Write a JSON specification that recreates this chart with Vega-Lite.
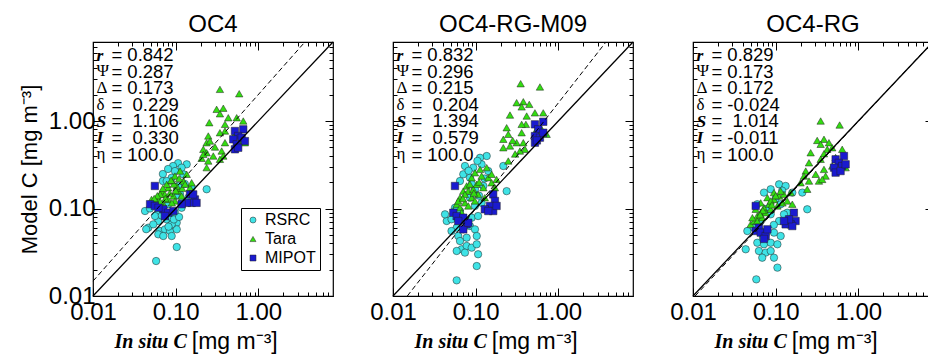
{
"$schema": "https://vega.github.io/schema/vega-lite/v6.json",
"padding": {"left": 17, "top": 12, "right": 0, "bottom": 0},
"background": "white",
"config": {
  "view": {"stroke": "black", "strokeWidth": 1.2},
  "font": "Liberation Sans",
  "axis": {"domain": false, "grid": false, "tickColor": "black", "tickWidth": 1, "labelColor": "black", "labelFont": "Liberation Sans", "labelFontSize": 24, "labelFlush": false, "labelOverlap": false},
  "axisX": {"labelPadding": 12},
  "axisY": {"labelPadding": 6},
  "title": {"font": "Liberation Sans", "fontSize": 24, "fontWeight": "normal", "color": "black", "offset": 2}
},
"datasets": {
"p1": [
{"s":"RSRC","x":0.107,"y":0.33},{"s":"RSRC","x":0.136,"y":0.32},{"s":"RSRC","x":0.070,"y":0.248},{"s":"RSRC","x":0.070,"y":0.206},{"s":"RSRC","x":0.0895,"y":0.225},{"s":"RSRC","x":0.237,"y":0.166},{"s":"RSRC","x":0.0426,"y":0.0936},{"s":"RSRC","x":0.0489,"y":0.10},{"s":"RSRC","x":0.0616,"y":0.0895},{"s":"RSRC","x":0.0742,"y":0.0895},{"s":"RSRC","x":0.0778,"y":0.0753},{"s":"RSRC","x":0.0616,"y":0.072},{"s":"RSRC","x":0.0895,"y":0.0785},{"s":"RSRC","x":0.103,"y":0.0688},{"s":"RSRC","x":0.0646,"y":0.0553},{"s":"RSRC","x":0.0742,"y":0.0578},{"s":"RSRC","x":0.0853,"y":0.0553},{"s":"RSRC","x":0.103,"y":0.0578},{"s":"RSRC","x":0.0616,"y":0.0507},{"s":"RSRC","x":0.0708,"y":0.0485},{"s":"RSRC","x":0.0895,"y":0.0485},{"s":"RSRC","x":0.0467,"y":0.0604},{"s":"RSRC","x":0.044,"y":0.058},{"s":"RSRC","x":0.103,"y":0.0363},{"s":"RSRC","x":0.058,"y":0.0251},{"s":"RSRC","x":0.0895,"y":0.0659},{"s":"RSRC","x":0.0536,"y":0.0659},{"s":"RSRC","x":0.0778,"y":0.206},{"s":"RSRC","x":0.124,"y":0.246},{"s":"RSRC","x":0.129,"y":0.191},{"s":"RSRC","x":0.113,"y":0.146},{"s":"RSRC","x":0.142,"y":0.133},{"s":"RSRC","x":0.0814,"y":0.112},{"s":"RSRC","x":0.118,"y":0.102},{"s":"RSRC","x":0.0677,"y":0.102},{"s":"RSRC","x":0.0589,"y":0.112},{"s":"RSRC","x":0.0981,"y":0.0895},{"s":"RSRC","x":0.0562,"y":0.082},{"s":"RSRC","x":0.093,"y":0.306},{"s":"RSRC","x":0.118,"y":0.293},{"s":"RSRC","x":0.081,"y":0.283},{"s":"RSRC","x":0.0981,"y":0.268},{"s":"RSRC","x":0.107,"y":0.181},{"s":"RSRC","x":0.156,"y":0.173},{"s":"RSRC","x":0.082,"y":0.062},{"s":"RSRC","x":0.095,"y":0.075},{"s":"RSRC","x":0.068,"y":0.083},{"s":"RSRC","x":0.11,"y":0.08},{"s":"RSRC","x":0.12,"y":0.12},{"s":"RSRC","x":0.1,"y":0.14},
{"s":"Tara","x":0.051,"y":0.116},{"s":"Tara","x":0.059,"y":0.133},{"s":"Tara","x":0.068,"y":0.158},{"s":"Tara","x":0.074,"y":0.145},{"s":"Tara","x":0.081,"y":0.173},{"s":"Tara","x":0.090,"y":0.206},{"s":"Tara","x":0.098,"y":0.235},{"s":"Tara","x":0.113,"y":0.268},{"s":"Tara","x":0.124,"y":0.206},{"s":"Tara","x":0.136,"y":0.246},{"s":"Tara","x":0.107,"y":0.158},{"s":"Tara","x":0.094,"y":0.139},{"s":"Tara","x":0.081,"y":0.127},{"s":"Tara","x":0.062,"y":0.122},{"s":"Tara","x":0.071,"y":0.112},{"s":"Tara","x":0.056,"y":0.112},{"s":"Tara","x":0.098,"y":0.122},{"s":"Tara","x":0.118,"y":0.139},{"s":"Tara","x":0.149,"y":0.173},{"s":"Tara","x":0.156,"y":0.197},{"s":"Tara","x":0.065,"y":0.145},{"s":"Tara","x":0.078,"y":0.189},{"s":"Tara","x":0.051,"y":0.127},{"s":"Tara","x":0.090,"y":0.116},{"s":"Tara","x":0.103,"y":0.181},{"s":"Tara","x":0.07,"y":0.17},{"s":"Tara","x":0.085,"y":0.15},{"s":"Tara","x":0.06,"y":0.14},{"s":"Tara","x":0.095,"y":0.19},{"s":"Tara","x":0.11,"y":0.22},{"s":"Tara","x":0.075,"y":0.13},{"s":"Tara","x":0.065,"y":0.12},{"s":"Tara","x":0.12,"y":0.17},{"s":"Tara","x":0.13,"y":0.19},{"s":"Tara","x":0.088,"y":0.21},{"s":"Tara","x":0.1,"y":0.16},{"s":"Tara","x":0.055,"y":0.13},
{"s":"Tara","x":0.343,"y":2.30},{"s":"Tara","x":0.587,"y":2.05},{"s":"Tara","x":0.313,"y":1.36},{"s":"Tara","x":0.377,"y":1.40},{"s":"Tara","x":0.343,"y":1.21},{"s":"Tara","x":0.433,"y":1.09},{"s":"Tara","x":0.547,"y":1.09},{"s":"Tara","x":0.255,"y":0.957},{"s":"Tara","x":0.395,"y":0.916},{"s":"Tara","x":0.657,"y":1.0},{"s":"Tara","x":0.395,"y":0.769},{"s":"Tara","x":0.248,"y":0.674},{"s":"Tara","x":0.343,"y":0.735},{"s":"Tara","x":0.521,"y":0.705},{"s":"Tara","x":0.237,"y":0.565},{"s":"Tara","x":0.26,"y":0.59},{"s":"Tara","x":0.599,"y":0.59},{"s":"Tara","x":0.688,"y":0.565},{"s":"Tara","x":0.299,"y":0.504},{"s":"Tara","x":0.395,"y":0.565},{"s":"Tara","x":0.216,"y":0.475},{"s":"Tara","x":0.36,"y":0.454},{"s":"Tara","x":0.237,"y":0.434},{"s":"Tara","x":0.285,"y":0.398},{"s":"Tara","x":0.377,"y":0.398},{"s":"Tara","x":0.206,"y":0.375},{"s":"Tara","x":0.248,"y":0.349},{"s":"Tara","x":0.343,"y":0.365},{"s":"Tara","x":0.237,"y":0.293},{"s":"Tara","x":0.216,"y":0.416},
{"s":"MIPOT","x":0.521,"y":0.769},{"s":"MIPOT","x":0.657,"y":0.804},{"s":"MIPOT","x":0.571,"y":0.674},{"s":"MIPOT","x":0.497,"y":0.618},{"s":"MIPOT","x":0.628,"y":0.645},{"s":"MIPOT","x":0.547,"y":0.542},{"s":"MIPOT","x":0.521,"y":0.475},{"s":"MIPOT","x":0.688,"y":0.59},{"s":"MIPOT","x":0.571,"y":0.495},{"s":"MIPOT","x":0.056,"y":0.181},{"s":"MIPOT","x":0.149,"y":0.145},{"s":"MIPOT","x":0.171,"y":0.127},{"s":"MIPOT","x":0.156,"y":0.116},{"s":"MIPOT","x":0.136,"y":0.116},{"s":"MIPOT","x":0.118,"y":0.112},{"s":"MIPOT","x":0.179,"y":0.116},{"s":"MIPOT","x":0.163,"y":0.145},{"s":"MIPOT","x":0.049,"y":0.112},{"s":"MIPOT","x":0.056,"y":0.107},{"s":"MIPOT","x":0.071,"y":0.098},{"s":"MIPOT","x":0.062,"y":0.102},{"s":"MIPOT","x":0.081,"y":0.0895},{"s":"MIPOT","x":0.074,"y":0.082},{"s":"MIPOT","x":0.094,"y":0.0936}
],
"p2": [
{"s":"RSRC","x":0.0742,"y":0.306},{"s":"RSRC","x":0.136,"y":0.398},{"s":"RSRC","x":0.113,"y":0.38},{"s":"RSRC","x":0.0935,"y":0.293},{"s":"RSRC","x":0.118,"y":0.32},{"s":"RSRC","x":0.0708,"y":0.246},{"s":"RSRC","x":0.0646,"y":0.206},{"s":"RSRC","x":0.0853,"y":0.225},{"s":"RSRC","x":0.142,"y":0.268},{"s":"RSRC","x":0.216,"y":0.306},{"s":"RSRC","x":0.237,"y":0.158},{"s":"RSRC","x":0.0981,"y":0.166},{"s":"RSRC","x":0.124,"y":0.181},{"s":"RSRC","x":0.0446,"y":0.072},{"s":"RSRC","x":0.051,"y":0.0753},{"s":"RSRC","x":0.0616,"y":0.0785},{"s":"RSRC","x":0.0742,"y":0.072},{"s":"RSRC","x":0.0895,"y":0.0785},{"s":"RSRC","x":0.107,"y":0.082},{"s":"RSRC","x":0.0589,"y":0.0604},{"s":"RSRC","x":0.0708,"y":0.0578},{"s":"RSRC","x":0.0853,"y":0.063},{"s":"RSRC","x":0.0981,"y":0.0578},{"s":"RSRC","x":0.051,"y":0.0553},{"s":"RSRC","x":0.0616,"y":0.0485},{"s":"RSRC","x":0.0778,"y":0.0464},{"s":"RSRC","x":0.103,"y":0.0485},{"s":"RSRC","x":0.0646,"y":0.0425},{"s":"RSRC","x":0.0677,"y":0.0342},{"s":"RSRC","x":0.0778,"y":0.0373},{"s":"RSRC","x":0.0895,"y":0.0357},{"s":"RSRC","x":0.103,"y":0.039},{"s":"RSRC","x":0.107,"y":0.030},{"s":"RSRC","x":0.0589,"y":0.0327},{"s":"RSRC","x":0.0742,"y":0.0313},{"s":"RSRC","x":0.103,"y":0.022},{"s":"RSRC","x":0.0589,"y":0.0151},{"s":"RSRC","x":0.0426,"y":0.0858},{"s":"RSRC","x":0.0646,"y":0.0936},{"s":"RSRC","x":0.0562,"y":0.102},{"s":"RSRC","x":0.098,"y":0.107},{"s":"RSRC","x":0.118,"y":0.116},{"s":"RSRC","x":0.0853,"y":0.133},{"s":"RSRC","x":0.082,"y":0.27},{"s":"RSRC","x":0.105,"y":0.35},{"s":"RSRC","x":0.128,"y":0.22},{"s":"RSRC","x":0.11,"y":0.14},{"s":"RSRC","x":0.09,"y":0.19},
{"s":"Tara","x":0.0536,"y":0.0936},{"s":"Tara","x":0.0589,"y":0.112},{"s":"Tara","x":0.0646,"y":0.133},{"s":"Tara","x":0.0708,"y":0.158},{"s":"Tara","x":0.0778,"y":0.181},{"s":"Tara","x":0.0895,"y":0.225},{"s":"Tara","x":0.0981,"y":0.256},{"s":"Tara","x":0.113,"y":0.28},{"s":"Tara","x":0.136,"y":0.293},{"s":"Tara","x":0.142,"y":0.225},{"s":"Tara","x":0.156,"y":0.197},{"s":"Tara","x":0.171,"y":0.173},{"s":"Tara","x":0.124,"y":0.173},{"s":"Tara","x":0.107,"y":0.145},{"s":"Tara","x":0.0895,"y":0.133},{"s":"Tara","x":0.0742,"y":0.116},{"s":"Tara","x":0.0646,"y":0.102},{"s":"Tara","x":0.0814,"y":0.107},{"s":"Tara","x":0.0981,"y":0.122},{"s":"Tara","x":0.129,"y":0.133},{"s":"Tara","x":0.0677,"y":0.0895},{"s":"Tara","x":0.0589,"y":0.082},{"s":"Tara","x":0.0814,"y":0.158},{"s":"Tara","x":0.103,"y":0.189},{"s":"Tara","x":0.118,"y":0.235},{"s":"Tara","x":0.156,"y":0.246},{"s":"Tara","x":0.179,"y":0.215},{"s":"Tara","x":0.0742,"y":0.145},{"s":"Tara","x":0.0616,"y":0.122},{"s":"Tara","x":0.0935,"y":0.166},{"s":"Tara","x":0.085,"y":0.19},{"s":"Tara","x":0.11,"y":0.2},{"s":"Tara","x":0.07,"y":0.13},{"s":"Tara","x":0.095,"y":0.15},
{"s":"Tara","x":0.35,"y":2.67},{"s":"Tara","x":0.599,"y":2.45},{"s":"Tara","x":0.313,"y":1.62},{"s":"Tara","x":0.377,"y":1.66},{"s":"Tara","x":0.445,"y":1.55},{"s":"Tara","x":0.36,"y":1.45},{"s":"Tara","x":0.26,"y":1.17},{"s":"Tara","x":0.414,"y":1.14},{"s":"Tara","x":0.521,"y":1.24},{"s":"Tara","x":0.657,"y":1.24},{"s":"Tara","x":0.405,"y":0.916},{"s":"Tara","x":0.36,"y":0.916},{"s":"Tara","x":0.237,"y":0.838},{"s":"Tara","x":0.248,"y":0.705},{"s":"Tara","x":0.36,"y":0.735},{"s":"Tara","x":0.547,"y":0.804},{"s":"Tara","x":0.628,"y":0.804},{"s":"Tara","x":0.722,"y":0.705},{"s":"Tara","x":0.216,"y":0.618},{"s":"Tara","x":0.313,"y":0.565},{"s":"Tara","x":0.377,"y":0.565},{"s":"Tara","x":0.395,"y":0.475},{"s":"Tara","x":0.343,"y":0.454},{"s":"Tara","x":0.26,"y":0.519},{"s":"Tara","x":0.216,"y":0.495},{"s":"Tara","x":0.248,"y":0.349},{"s":"Tara","x":0.599,"y":0.735},{"s":"Tara","x":0.3,"y":0.42},{"s":"Tara","x":0.28,"y":0.6},
{"s":"MIPOT","x":0.521,"y":0.916},{"s":"MIPOT","x":0.657,"y":0.98},{"s":"MIPOT","x":0.571,"y":0.804},{"s":"MIPOT","x":0.521,"y":0.674},{"s":"MIPOT","x":0.599,"y":0.645},{"s":"MIPOT","x":0.521,"y":0.565},{"s":"MIPOT","x":0.657,"y":0.735},{"s":"MIPOT","x":0.55,"y":0.6},{"s":"MIPOT","x":0.0562,"y":0.181},{"s":"MIPOT","x":0.163,"y":0.145},{"s":"MIPOT","x":0.171,"y":0.122},{"s":"MIPOT","x":0.149,"y":0.107},{"s":"MIPOT","x":0.129,"y":0.098},{"s":"MIPOT","x":0.163,"y":0.0936},{"s":"MIPOT","x":0.142,"y":0.0936},{"s":"MIPOT","x":0.179,"y":0.107},{"s":"MIPOT","x":0.0536,"y":0.0895},{"s":"MIPOT","x":0.0589,"y":0.082},{"s":"MIPOT","x":0.0708,"y":0.0785},{"s":"MIPOT","x":0.0778,"y":0.0659},{"s":"MIPOT","x":0.0708,"y":0.0578},{"s":"MIPOT","x":0.0616,"y":0.072},{"s":"MIPOT","x":0.0814,"y":0.0688}
],
"p3": [
{"s":"RSRC","x":0.110,"y":0.189},{"s":"RSRC","x":0.132,"y":0.181},{"s":"RSRC","x":0.0722,"y":0.152},{"s":"RSRC","x":0.0871,"y":0.166},{"s":"RSRC","x":0.159,"y":0.152},{"s":"RSRC","x":0.21,"y":0.152},{"s":"RSRC","x":0.241,"y":0.098},{"s":"RSRC","x":0.0599,"y":0.112},{"s":"RSRC","x":0.115,"y":0.112},{"s":"RSRC","x":0.138,"y":0.0895},{"s":"RSRC","x":0.110,"y":0.072},{"s":"RSRC","x":0.0454,"y":0.0553},{"s":"RSRC","x":0.0547,"y":0.0604},{"s":"RSRC","x":0.0659,"y":0.0553},{"s":"RSRC","x":0.0757,"y":0.0507},{"s":"RSRC","x":0.0954,"y":0.053},{"s":"RSRC","x":0.115,"y":0.0485},{"s":"RSRC","x":0.0599,"y":0.0406},{"s":"RSRC","x":0.0722,"y":0.039},{"s":"RSRC","x":0.0871,"y":0.0406},{"s":"RSRC","x":0.105,"y":0.039},{"s":"RSRC","x":0.0627,"y":0.0327},{"s":"RSRC","x":0.0757,"y":0.0313},{"s":"RSRC","x":0.0871,"y":0.0327},{"s":"RSRC","x":0.0688,"y":0.0274},{"s":"RSRC","x":0.0954,"y":0.0274},{"s":"RSRC","x":0.0434,"y":0.0342},{"s":"RSRC","x":0.105,"y":0.0211},{"s":"RSRC","x":0.0583,"y":0.0155},{"s":"RSRC","x":0.126,"y":0.0858},{"s":"RSRC","x":0.0871,"y":0.0858},{"s":"RSRC","x":0.0659,"y":0.072},{"s":"RSRC","x":0.1,"y":0.13},{"s":"RSRC","x":0.12,"y":0.16},{"s":"RSRC","x":0.08,"y":0.1},{"s":"RSRC","x":0.095,"y":0.065},{"s":"RSRC","x":0.07,"y":0.046},
{"s":"Tara","x":0.0498,"y":0.0659},{"s":"Tara","x":0.0547,"y":0.072},{"s":"Tara","x":0.0599,"y":0.082},{"s":"Tara","x":0.0659,"y":0.0895},{"s":"Tara","x":0.0722,"y":0.102},{"s":"Tara","x":0.0832,"y":0.112},{"s":"Tara","x":0.0954,"y":0.127},{"s":"Tara","x":0.11,"y":0.139},{"s":"Tara","x":0.126,"y":0.145},{"s":"Tara","x":0.152,"y":0.152},{"s":"Tara","x":0.0954,"y":0.152},{"s":"Tara","x":0.0794,"y":0.133},{"s":"Tara","x":0.0659,"y":0.116},{"s":"Tara","x":0.0573,"y":0.098},{"s":"Tara","x":0.0757,"y":0.0895},{"s":"Tara","x":0.0871,"y":0.098},{"s":"Tara","x":0.105,"y":0.107},{"s":"Tara","x":0.121,"y":0.116},{"s":"Tara","x":0.138,"y":0.122},{"s":"Tara","x":0.159,"y":0.112},{"s":"Tara","x":0.0599,"y":0.072},{"s":"Tara","x":0.0688,"y":0.0785},{"s":"Tara","x":0.0523,"y":0.0785},{"s":"Tara","x":0.0871,"y":0.122},{"s":"Tara","x":0.115,"y":0.158},{"s":"Tara","x":0.07,"y":0.095},{"s":"Tara","x":0.09,"y":0.11},{"s":"Tara","x":0.1,"y":0.14},{"s":"Tara","x":0.065,"y":0.085},
{"s":"Tara","x":0.35,"y":1.0},{"s":"Tara","x":0.594,"y":0.9},{"s":"Tara","x":0.318,"y":0.6},{"s":"Tara","x":0.384,"y":0.618},{"s":"Tara","x":0.441,"y":0.565},{"s":"Tara","x":0.35,"y":0.542},{"s":"Tara","x":0.265,"y":0.434},{"s":"Tara","x":0.421,"y":0.475},{"s":"Tara","x":0.483,"y":0.495},{"s":"Tara","x":0.638,"y":0.475},{"s":"Tara","x":0.384,"y":0.423},{"s":"Tara","x":0.253,"y":0.333},{"s":"Tara","x":0.35,"y":0.365},{"s":"Tara","x":0.531,"y":0.383},{"s":"Tara","x":0.702,"y":0.293},{"s":"Tara","x":0.231,"y":0.268},{"s":"Tara","x":0.305,"y":0.246},{"s":"Tara","x":0.384,"y":0.28},{"s":"Tara","x":0.402,"y":0.235},{"s":"Tara","x":0.22,"y":0.235},{"s":"Tara","x":0.253,"y":0.206},{"s":"Tara","x":0.334,"y":0.206},{"s":"Tara","x":0.366,"y":0.215},{"s":"Tara","x":0.241,"y":0.166},{"s":"Tara","x":0.2,"y":0.197},{"s":"Tara","x":0.483,"y":0.306},
{"s":"MIPOT","x":0.531,"y":0.365},{"s":"MIPOT","x":0.67,"y":0.398},{"s":"MIPOT","x":0.58,"y":0.333},{"s":"MIPOT","x":0.508,"y":0.293},{"s":"MIPOT","x":0.638,"y":0.306},{"s":"MIPOT","x":0.531,"y":0.257},{"s":"MIPOT","x":0.61,"y":0.268},{"s":"MIPOT","x":0.702,"y":0.32},{"s":"MIPOT","x":0.0573,"y":0.107},{"s":"MIPOT","x":0.166,"y":0.0895},{"s":"MIPOT","x":0.174,"y":0.072},{"s":"MIPOT","x":0.152,"y":0.0659},{"s":"MIPOT","x":0.132,"y":0.0659},{"s":"MIPOT","x":0.159,"y":0.063},{"s":"MIPOT","x":0.145,"y":0.0753},{"s":"MIPOT","x":0.126,"y":0.072},{"s":"MIPOT","x":0.0573,"y":0.0553},{"s":"MIPOT","x":0.0627,"y":0.0604},{"s":"MIPOT","x":0.0659,"y":0.053},{"s":"MIPOT","x":0.0757,"y":0.0485},{"s":"MIPOT","x":0.0722,"y":0.0449},{"s":"MIPOT","x":0.0794,"y":0.0578}
],
"stats": [
{"p":1,"r":"r","si":"S\nI","g":"Ψ\nΔ\nδ","e":"η","v":"=\u00a00.842\n=\u00a00.287\n=\u00a00.173\n=\u00a0\u00a00.229\n=\u00a0\u00a01.106\n=\u00a0\u00a00.330\n=\u00a0100.0"},
{"p":2,"r":"r","si":"S\nI","g":"Ψ\nΔ\nδ","e":"η","v":"=\u00a00.832\n=\u00a00.296\n=\u00a00.215\n=\u00a0\u00a00.204\n=\u00a0\u00a01.394\n=\u00a0\u00a00.579\n=\u00a0100.0"},
{"p":3,"r":"r","si":"S\nI","g":"Ψ\nΔ\nδ","e":"η","v":"=\u00a00.829\n=\u00a00.173\n=\u00a00.172\n=\u00a0-0.024\n=\u00a0\u00a01.014\n=\u00a0-0.011\n=\u00a0100.0"}
],
"one1": [{"x":0.01,"y":0.01},{"x":8,"y":8}],
"fit1": [{"x":0.01,"y":0.0148},{"x":3.66,"y":8}],
"fit2": [{"x":0.0149,"y":0.01},{"x":3.77,"y":8}],
"fit3": [{"x":0.0106,"y":0.01},{"x":7.9,"y":8}],
"xt": [{"a":"In situ C","b":"[mg m⁻³]"}]
},
"resolve": {"scale": {"color": "independent", "shape": "independent"}, "legend": {"color": "independent", "shape": "independent"}},
"bounds": "flush",
"spacing": 60,
"hconcat": [
{
 "width": 240, "height": 254,
 "title": {"text": "OC4"},
 "resolve": {"axis": {"x": "independent", "y": "independent"}},
 "layer": [
  {"data": {"name": "p1"},
   "mark": {"type": "point", "filled": true, "stroke": "#222222", "strokeWidth": 0.5, "opacity": 1, "size": 55},
   "encoding": {
    "x": {"field": "x", "type": "quantitative", "scale": {"type": "log", "domain": [0.01, 8], "nice": false}, "axis": {"orient": "bottom", "values": [0.01, 0.1, 1], "format": ".2f", "tickSize": -8, "title": null}},
    "y": {"field": "y", "type": "quantitative", "scale": {"type": "log", "domain": [0.01, 8], "nice": false}, "axis": {"orient": "left", "values": [0.01, 0.1, 1], "format": ".2f", "tickSize": -8, "title": "Model C [mg m⁻³]", "titleFont": "Liberation Sans", "titleFontSize": 22, "titleFontWeight": "normal", "titleColor": "black", "titlePadding": 7}},
    "color": {"field": "s", "type": "nominal", "scale": {"domain": ["RSRC", "Tara", "MIPOT"], "range": ["#3EE3E6", "#33DD11", "#1A1ACF"]},
      "legend": {"title": null, "orient": "none", "legendX": 148, "legendY": 166, "strokeColor": "black", "fillColor": "white", "padding": 4, "labelFontSize": 16, "labelFont": "Liberation Sans", "labelColor": "black", "symbolSize": 36, "rowPadding": 3, "symbolStrokeColor": "#222222", "symbolStrokeWidth": 0.5, "labelOffset": 4, "cornerRadius": 0}},
    "shape": {"field": "s", "type": "nominal", "scale": {"domain": ["RSRC", "Tara", "MIPOT"], "range": ["circle", "triangle-up", "square"]},
      "legend": {"title": null, "orient": "none", "legendX": 148, "legendY": 166, "strokeColor": "black", "fillColor": "white", "padding": 4, "labelFontSize": 16, "labelFont": "Liberation Sans", "labelColor": "black", "symbolSize": 36, "rowPadding": 3, "symbolStrokeColor": "#222222", "symbolStrokeWidth": 0.5, "labelOffset": 4, "cornerRadius": 0}}
   }},
  {"data": {"name": "one1"},
   "mark": {"type": "line", "color": "black", "strokeWidth": 1.3},
   "encoding": {
    "x": {"field": "x", "type": "quantitative", "scale": {"type": "log", "domain": [0.01, 8], "nice": false}, "axis": {"orient": "bottom", "values": [0.02,0.03,0.04,0.05,0.06,0.07,0.08,0.09,0.2,0.3,0.4,0.5,0.6,0.7,0.8,0.9,2,3,4,5,6,7], "tickSize": -4, "labels": false, "title": null}},
    "y": {"field": "y", "type": "quantitative", "scale": {"type": "log", "domain": [0.01, 8], "nice": false}, "axis": {"orient": "left", "values": [0.02,0.03,0.04,0.05,0.06,0.07,0.08,0.09,0.2,0.3,0.4,0.5,0.6,0.7,0.8,0.9,2,3,4,5,6,7], "tickSize": -4, "labels": false, "title": null}}
   }},
  {"data": {"name": "fit1"},
   "mark": {"type": "line", "color": "black", "strokeWidth": 1, "strokeDash": [5, 3]},
   "encoding": {
    "x": {"field": "x", "type": "quantitative", "scale": {"type": "log", "domain": [0.01, 8], "nice": false}, "axis": {"orient": "top", "values": [0.01, 0.1, 1], "tickSize": -8, "labels": false, "title": null}},
    "y": {"field": "y", "type": "quantitative", "scale": {"type": "log", "domain": [0.01, 8], "nice": false}, "axis": {"orient": "right", "values": [0.01, 0.1, 1], "tickSize": -8, "labels": false, "title": null}}
   }},
  {"data": {"name": "stats"}, "transform": [{"filter": "datum.p == 1"}],
   "mark": {"type": "text", "font": "Liberation Serif", "fontStyle": "italic", "fontWeight": "bold", "fontSize": 17.5, "align": "left", "baseline": "top", "dx": 2, "dy": 4.5, "color": "black"},
   "encoding": {
    "x": {"datum": 0.0104, "type": "quantitative", "scale": {"type": "log", "domain": [0.01, 8], "nice": false}, "axis": {"orient": "top", "values": [0.02,0.03,0.04,0.05,0.06,0.07,0.08,0.09,0.2,0.3,0.4,0.5,0.6,0.7,0.8,0.9,2,3,4,5,6,7], "tickSize": -4, "labels": false, "title": null}},
    "y": {"datum": 8, "type": "quantitative", "scale": {"type": "log", "domain": [0.01, 8], "nice": false}, "axis": {"orient": "right", "values": [0.02,0.03,0.04,0.05,0.06,0.07,0.08,0.09,0.2,0.3,0.4,0.5,0.6,0.7,0.8,0.9,2,3,4,5,6,7], "tickSize": -4, "labels": false, "title": null}},
    "text": {"field": "r"}
   }},
  {"data": {"name": "stats"}, "transform": [{"filter": "datum.p == 1"}],
   "mark": {"type": "text", "font": "Liberation Serif", "fontStyle": "italic", "fontWeight": "bold", "fontSize": 17.5, "align": "left", "baseline": "top", "lineBreak": "\n", "lineHeight": 16.6, "dx": 2, "dy": 70.9, "color": "black"},
   "encoding": {
    "x": {"datum": 0.0104, "type": "quantitative", "scale": {"type": "log", "domain": [0.01, 8], "nice": false}, "axis": null},
    "y": {"datum": 8, "type": "quantitative", "scale": {"type": "log", "domain": [0.01, 8], "nice": false}, "axis": null},
    "text": {"field": "si"}
   }},
  {"data": {"name": "stats"}, "transform": [{"filter": "datum.p == 1"}],
   "mark": {"type": "text", "font": "Liberation Serif", "fontSize": 17, "align": "left", "baseline": "top", "lineBreak": "\n", "lineHeight": 16.6, "dx": 2, "dy": 21.4, "color": "black"},
   "encoding": {
    "x": {"datum": 0.0104, "type": "quantitative", "scale": {"type": "log", "domain": [0.01, 8], "nice": false}, "axis": null},
    "y": {"datum": 8, "type": "quantitative", "scale": {"type": "log", "domain": [0.01, 8], "nice": false}, "axis": null},
    "text": {"field": "g"}
   }},
  {"data": {"name": "stats"}, "transform": [{"filter": "datum.p == 1"}],
   "mark": {"type": "text", "font": "Liberation Serif", "fontSize": 17, "align": "left", "baseline": "top", "dx": 2, "dy": 104.4, "color": "black"},
   "encoding": {
    "x": {"datum": 0.0104, "type": "quantitative", "scale": {"type": "log", "domain": [0.01, 8], "nice": false}, "axis": null},
    "y": {"datum": 8, "type": "quantitative", "scale": {"type": "log", "domain": [0.01, 8], "nice": false}, "axis": null},
    "text": {"field": "e"}
   }},
  {"data": {"name": "stats"}, "transform": [{"filter": "datum.p == 1"}],
   "mark": {"type": "text", "font": "Liberation Sans", "fontSize": 18.5, "align": "left", "baseline": "top", "lineBreak": "\n", "lineHeight": 16.6, "dx": 17, "dy": 4, "color": "black"},
   "encoding": {
    "x": {"datum": 0.0104, "type": "quantitative", "scale": {"type": "log", "domain": [0.01, 8], "nice": false}, "axis": null},
    "y": {"datum": 8, "type": "quantitative", "scale": {"type": "log", "domain": [0.01, 8], "nice": false}, "axis": null},
    "text": {"field": "v"}
   }},
  {"data": {"name": "xt"},
   "mark": {"type": "text", "font": "Liberation Serif", "fontStyle": "italic", "fontWeight": "bold", "fontSize": 20, "align": "right", "baseline": "middle", "dx": -2, "dy": 46, "color": "black"},
   "encoding": {
    "x": {"datum": 0.144, "type": "quantitative", "scale": {"type": "log", "domain": [0.01, 8], "nice": false}, "axis": null},
    "y": {"datum": 0.01, "type": "quantitative", "scale": {"type": "log", "domain": [0.01, 8], "nice": false}, "axis": null},
    "text": {"field": "a"}
   }},
  {"data": {"name": "xt"},
   "mark": {"type": "text", "font": "Liberation Sans", "fontSize": 23, "align": "left", "baseline": "middle", "dx": 3, "dy": 46, "color": "black"},
   "encoding": {
    "x": {"datum": 0.144, "type": "quantitative", "scale": {"type": "log", "domain": [0.01, 8], "nice": false}, "axis": null},
    "y": {"datum": 0.01, "type": "quantitative", "scale": {"type": "log", "domain": [0.01, 8], "nice": false}, "axis": null},
    "text": {"field": "b"}
   }}
 ]
},
{
 "width": 240, "height": 254,
 "title": {"text": "OC4-RG-M09"},
 "resolve": {"axis": {"x": "independent", "y": "independent"}},
 "layer": [
  {"data": {"name": "p2"},
   "mark": {"type": "point", "filled": true, "stroke": "#222222", "strokeWidth": 0.5, "opacity": 1, "size": 55},
   "encoding": {
    "x": {"field": "x", "type": "quantitative", "scale": {"type": "log", "domain": [0.01, 8], "nice": false}, "axis": {"orient": "bottom", "values": [0.01, 0.1, 1], "format": ".2f", "tickSize": -8, "title": null}},
    "y": {"field": "y", "type": "quantitative", "scale": {"type": "log", "domain": [0.01, 8], "nice": false}, "axis": {"orient": "left", "values": [0.01, 0.1, 1], "tickSize": -8, "labels": false, "title": null}},
    "color": {"field": "s", "type": "nominal", "scale": {"domain": ["RSRC", "Tara", "MIPOT"], "range": ["#3EE3E6", "#33DD11", "#1A1ACF"]}, "legend": null},
    "shape": {"field": "s", "type": "nominal", "scale": {"domain": ["RSRC", "Tara", "MIPOT"], "range": ["circle", "triangle-up", "square"]}, "legend": null}
   }},
  {"data": {"name": "one1"},
   "mark": {"type": "line", "color": "black", "strokeWidth": 1.3},
   "encoding": {
    "x": {"field": "x", "type": "quantitative", "scale": {"type": "log", "domain": [0.01, 8], "nice": false}, "axis": {"orient": "bottom", "values": [0.02,0.03,0.04,0.05,0.06,0.07,0.08,0.09,0.2,0.3,0.4,0.5,0.6,0.7,0.8,0.9,2,3,4,5,6,7], "tickSize": -4, "labels": false, "title": null}},
    "y": {"field": "y", "type": "quantitative", "scale": {"type": "log", "domain": [0.01, 8], "nice": false}, "axis": {"orient": "left", "values": [0.02,0.03,0.04,0.05,0.06,0.07,0.08,0.09,0.2,0.3,0.4,0.5,0.6,0.7,0.8,0.9,2,3,4,5,6,7], "tickSize": -4, "labels": false, "title": null}}
   }},
  {"data": {"name": "fit2"},
   "mark": {"type": "line", "color": "black", "strokeWidth": 1, "strokeDash": [5, 3]},
   "encoding": {
    "x": {"field": "x", "type": "quantitative", "scale": {"type": "log", "domain": [0.01, 8], "nice": false}, "axis": {"orient": "top", "values": [0.01, 0.1, 1], "tickSize": -8, "labels": false, "title": null}},
    "y": {"field": "y", "type": "quantitative", "scale": {"type": "log", "domain": [0.01, 8], "nice": false}, "axis": {"orient": "right", "values": [0.01, 0.1, 1], "tickSize": -8, "labels": false, "title": null}}
   }},
  {"data": {"name": "stats"}, "transform": [{"filter": "datum.p == 2"}],
   "mark": {"type": "text", "font": "Liberation Serif", "fontStyle": "italic", "fontWeight": "bold", "fontSize": 17.5, "align": "left", "baseline": "top", "dx": 2, "dy": 4.5, "color": "black"},
   "encoding": {
    "x": {"datum": 0.0104, "type": "quantitative", "scale": {"type": "log", "domain": [0.01, 8], "nice": false}, "axis": {"orient": "top", "values": [0.02,0.03,0.04,0.05,0.06,0.07,0.08,0.09,0.2,0.3,0.4,0.5,0.6,0.7,0.8,0.9,2,3,4,5,6,7], "tickSize": -4, "labels": false, "title": null}},
    "y": {"datum": 8, "type": "quantitative", "scale": {"type": "log", "domain": [0.01, 8], "nice": false}, "axis": {"orient": "right", "values": [0.02,0.03,0.04,0.05,0.06,0.07,0.08,0.09,0.2,0.3,0.4,0.5,0.6,0.7,0.8,0.9,2,3,4,5,6,7], "tickSize": -4, "labels": false, "title": null}},
    "text": {"field": "r"}
   }},
  {"data": {"name": "stats"}, "transform": [{"filter": "datum.p == 2"}],
   "mark": {"type": "text", "font": "Liberation Serif", "fontStyle": "italic", "fontWeight": "bold", "fontSize": 17.5, "align": "left", "baseline": "top", "lineBreak": "\n", "lineHeight": 16.6, "dx": 2, "dy": 70.9, "color": "black"},
   "encoding": {
    "x": {"datum": 0.0104, "type": "quantitative", "scale": {"type": "log", "domain": [0.01, 8], "nice": false}, "axis": null},
    "y": {"datum": 8, "type": "quantitative", "scale": {"type": "log", "domain": [0.01, 8], "nice": false}, "axis": null},
    "text": {"field": "si"}
   }},
  {"data": {"name": "stats"}, "transform": [{"filter": "datum.p == 2"}],
   "mark": {"type": "text", "font": "Liberation Serif", "fontSize": 17, "align": "left", "baseline": "top", "lineBreak": "\n", "lineHeight": 16.6, "dx": 2, "dy": 21.4, "color": "black"},
   "encoding": {
    "x": {"datum": 0.0104, "type": "quantitative", "scale": {"type": "log", "domain": [0.01, 8], "nice": false}, "axis": null},
    "y": {"datum": 8, "type": "quantitative", "scale": {"type": "log", "domain": [0.01, 8], "nice": false}, "axis": null},
    "text": {"field": "g"}
   }},
  {"data": {"name": "stats"}, "transform": [{"filter": "datum.p == 2"}],
   "mark": {"type": "text", "font": "Liberation Serif", "fontSize": 17, "align": "left", "baseline": "top", "dx": 2, "dy": 104.4, "color": "black"},
   "encoding": {
    "x": {"datum": 0.0104, "type": "quantitative", "scale": {"type": "log", "domain": [0.01, 8], "nice": false}, "axis": null},
    "y": {"datum": 8, "type": "quantitative", "scale": {"type": "log", "domain": [0.01, 8], "nice": false}, "axis": null},
    "text": {"field": "e"}
   }},
  {"data": {"name": "stats"}, "transform": [{"filter": "datum.p == 2"}],
   "mark": {"type": "text", "font": "Liberation Sans", "fontSize": 18.5, "align": "left", "baseline": "top", "lineBreak": "\n", "lineHeight": 16.6, "dx": 17, "dy": 4, "color": "black"},
   "encoding": {
    "x": {"datum": 0.0104, "type": "quantitative", "scale": {"type": "log", "domain": [0.01, 8], "nice": false}, "axis": null},
    "y": {"datum": 8, "type": "quantitative", "scale": {"type": "log", "domain": [0.01, 8], "nice": false}, "axis": null},
    "text": {"field": "v"}
   }},
  {"data": {"name": "xt"},
   "mark": {"type": "text", "font": "Liberation Serif", "fontStyle": "italic", "fontWeight": "bold", "fontSize": 20, "align": "right", "baseline": "middle", "dx": -2, "dy": 46, "color": "black"},
   "encoding": {
    "x": {"datum": 0.144, "type": "quantitative", "scale": {"type": "log", "domain": [0.01, 8], "nice": false}, "axis": null},
    "y": {"datum": 0.01, "type": "quantitative", "scale": {"type": "log", "domain": [0.01, 8], "nice": false}, "axis": null},
    "text": {"field": "a"}
   }},
  {"data": {"name": "xt"},
   "mark": {"type": "text", "font": "Liberation Sans", "fontSize": 23, "align": "left", "baseline": "middle", "dx": 3, "dy": 46, "color": "black"},
   "encoding": {
    "x": {"datum": 0.144, "type": "quantitative", "scale": {"type": "log", "domain": [0.01, 8], "nice": false}, "axis": null},
    "y": {"datum": 0.01, "type": "quantitative", "scale": {"type": "log", "domain": [0.01, 8], "nice": false}, "axis": null},
    "text": {"field": "b"}
   }}
 ]
},
{
 "width": 240, "height": 254,
 "title": {"text": "OC4-RG"},
 "resolve": {"axis": {"x": "independent", "y": "independent"}},
 "layer": [
  {"data": {"name": "p3"},
   "mark": {"type": "point", "filled": true, "stroke": "#222222", "strokeWidth": 0.5, "opacity": 1, "size": 55},
   "encoding": {
    "x": {"field": "x", "type": "quantitative", "scale": {"type": "log", "domain": [0.01, 8], "nice": false}, "axis": {"orient": "bottom", "values": [0.01, 0.1, 1], "format": ".2f", "tickSize": -8, "title": null}},
    "y": {"field": "y", "type": "quantitative", "scale": {"type": "log", "domain": [0.01, 8], "nice": false}, "axis": {"orient": "left", "values": [0.01, 0.1, 1], "tickSize": -8, "labels": false, "title": null}},
    "color": {"field": "s", "type": "nominal", "scale": {"domain": ["RSRC", "Tara", "MIPOT"], "range": ["#3EE3E6", "#33DD11", "#1A1ACF"]}, "legend": null},
    "shape": {"field": "s", "type": "nominal", "scale": {"domain": ["RSRC", "Tara", "MIPOT"], "range": ["circle", "triangle-up", "square"]}, "legend": null}
   }},
  {"data": {"name": "one1"},
   "mark": {"type": "line", "color": "black", "strokeWidth": 1.3},
   "encoding": {
    "x": {"field": "x", "type": "quantitative", "scale": {"type": "log", "domain": [0.01, 8], "nice": false}, "axis": {"orient": "bottom", "values": [0.02,0.03,0.04,0.05,0.06,0.07,0.08,0.09,0.2,0.3,0.4,0.5,0.6,0.7,0.8,0.9,2,3,4,5,6,7], "tickSize": -4, "labels": false, "title": null}},
    "y": {"field": "y", "type": "quantitative", "scale": {"type": "log", "domain": [0.01, 8], "nice": false}, "axis": {"orient": "left", "values": [0.02,0.03,0.04,0.05,0.06,0.07,0.08,0.09,0.2,0.3,0.4,0.5,0.6,0.7,0.8,0.9,2,3,4,5,6,7], "tickSize": -4, "labels": false, "title": null}}
   }},
  {"data": {"name": "fit3"},
   "mark": {"type": "line", "color": "black", "strokeWidth": 1, "strokeDash": [5, 3]},
   "encoding": {
    "x": {"field": "x", "type": "quantitative", "scale": {"type": "log", "domain": [0.01, 8], "nice": false}, "axis": {"orient": "top", "values": [0.01, 0.1, 1], "tickSize": -8, "labels": false, "title": null}},
    "y": {"field": "y", "type": "quantitative", "scale": {"type": "log", "domain": [0.01, 8], "nice": false}, "axis": {"orient": "right", "values": [0.01, 0.1, 1], "tickSize": -8, "labels": false, "title": null}}
   }},
  {"data": {"name": "stats"}, "transform": [{"filter": "datum.p == 3"}],
   "mark": {"type": "text", "font": "Liberation Serif", "fontStyle": "italic", "fontWeight": "bold", "fontSize": 17.5, "align": "left", "baseline": "top", "dx": 2, "dy": 4.5, "color": "black"},
   "encoding": {
    "x": {"datum": 0.0104, "type": "quantitative", "scale": {"type": "log", "domain": [0.01, 8], "nice": false}, "axis": {"orient": "top", "values": [0.02,0.03,0.04,0.05,0.06,0.07,0.08,0.09,0.2,0.3,0.4,0.5,0.6,0.7,0.8,0.9,2,3,4,5,6,7], "tickSize": -4, "labels": false, "title": null}},
    "y": {"datum": 8, "type": "quantitative", "scale": {"type": "log", "domain": [0.01, 8], "nice": false}, "axis": {"orient": "right", "values": [0.02,0.03,0.04,0.05,0.06,0.07,0.08,0.09,0.2,0.3,0.4,0.5,0.6,0.7,0.8,0.9,2,3,4,5,6,7], "tickSize": -4, "labels": false, "title": null}},
    "text": {"field": "r"}
   }},
  {"data": {"name": "stats"}, "transform": [{"filter": "datum.p == 3"}],
   "mark": {"type": "text", "font": "Liberation Serif", "fontStyle": "italic", "fontWeight": "bold", "fontSize": 17.5, "align": "left", "baseline": "top", "lineBreak": "\n", "lineHeight": 16.6, "dx": 2, "dy": 70.9, "color": "black"},
   "encoding": {
    "x": {"datum": 0.0104, "type": "quantitative", "scale": {"type": "log", "domain": [0.01, 8], "nice": false}, "axis": null},
    "y": {"datum": 8, "type": "quantitative", "scale": {"type": "log", "domain": [0.01, 8], "nice": false}, "axis": null},
    "text": {"field": "si"}
   }},
  {"data": {"name": "stats"}, "transform": [{"filter": "datum.p == 3"}],
   "mark": {"type": "text", "font": "Liberation Serif", "fontSize": 17, "align": "left", "baseline": "top", "lineBreak": "\n", "lineHeight": 16.6, "dx": 2, "dy": 21.4, "color": "black"},
   "encoding": {
    "x": {"datum": 0.0104, "type": "quantitative", "scale": {"type": "log", "domain": [0.01, 8], "nice": false}, "axis": null},
    "y": {"datum": 8, "type": "quantitative", "scale": {"type": "log", "domain": [0.01, 8], "nice": false}, "axis": null},
    "text": {"field": "g"}
   }},
  {"data": {"name": "stats"}, "transform": [{"filter": "datum.p == 3"}],
   "mark": {"type": "text", "font": "Liberation Serif", "fontSize": 17, "align": "left", "baseline": "top", "dx": 2, "dy": 104.4, "color": "black"},
   "encoding": {
    "x": {"datum": 0.0104, "type": "quantitative", "scale": {"type": "log", "domain": [0.01, 8], "nice": false}, "axis": null},
    "y": {"datum": 8, "type": "quantitative", "scale": {"type": "log", "domain": [0.01, 8], "nice": false}, "axis": null},
    "text": {"field": "e"}
   }},
  {"data": {"name": "stats"}, "transform": [{"filter": "datum.p == 3"}],
   "mark": {"type": "text", "font": "Liberation Sans", "fontSize": 18.5, "align": "left", "baseline": "top", "lineBreak": "\n", "lineHeight": 16.6, "dx": 17, "dy": 4, "color": "black"},
   "encoding": {
    "x": {"datum": 0.0104, "type": "quantitative", "scale": {"type": "log", "domain": [0.01, 8], "nice": false}, "axis": null},
    "y": {"datum": 8, "type": "quantitative", "scale": {"type": "log", "domain": [0.01, 8], "nice": false}, "axis": null},
    "text": {"field": "v"}
   }},
  {"data": {"name": "xt"},
   "mark": {"type": "text", "font": "Liberation Serif", "fontStyle": "italic", "fontWeight": "bold", "fontSize": 20, "align": "right", "baseline": "middle", "dx": -2, "dy": 46, "color": "black"},
   "encoding": {
    "x": {"datum": 0.144, "type": "quantitative", "scale": {"type": "log", "domain": [0.01, 8], "nice": false}, "axis": null},
    "y": {"datum": 0.01, "type": "quantitative", "scale": {"type": "log", "domain": [0.01, 8], "nice": false}, "axis": null},
    "text": {"field": "a"}
   }},
  {"data": {"name": "xt"},
   "mark": {"type": "text", "font": "Liberation Sans", "fontSize": 23, "align": "left", "baseline": "middle", "dx": 3, "dy": 46, "color": "black"},
   "encoding": {
    "x": {"datum": 0.144, "type": "quantitative", "scale": {"type": "log", "domain": [0.01, 8], "nice": false}, "axis": null},
    "y": {"datum": 0.01, "type": "quantitative", "scale": {"type": "log", "domain": [0.01, 8], "nice": false}, "axis": null},
    "text": {"field": "b"}
   }}
 ]
}
]
}
